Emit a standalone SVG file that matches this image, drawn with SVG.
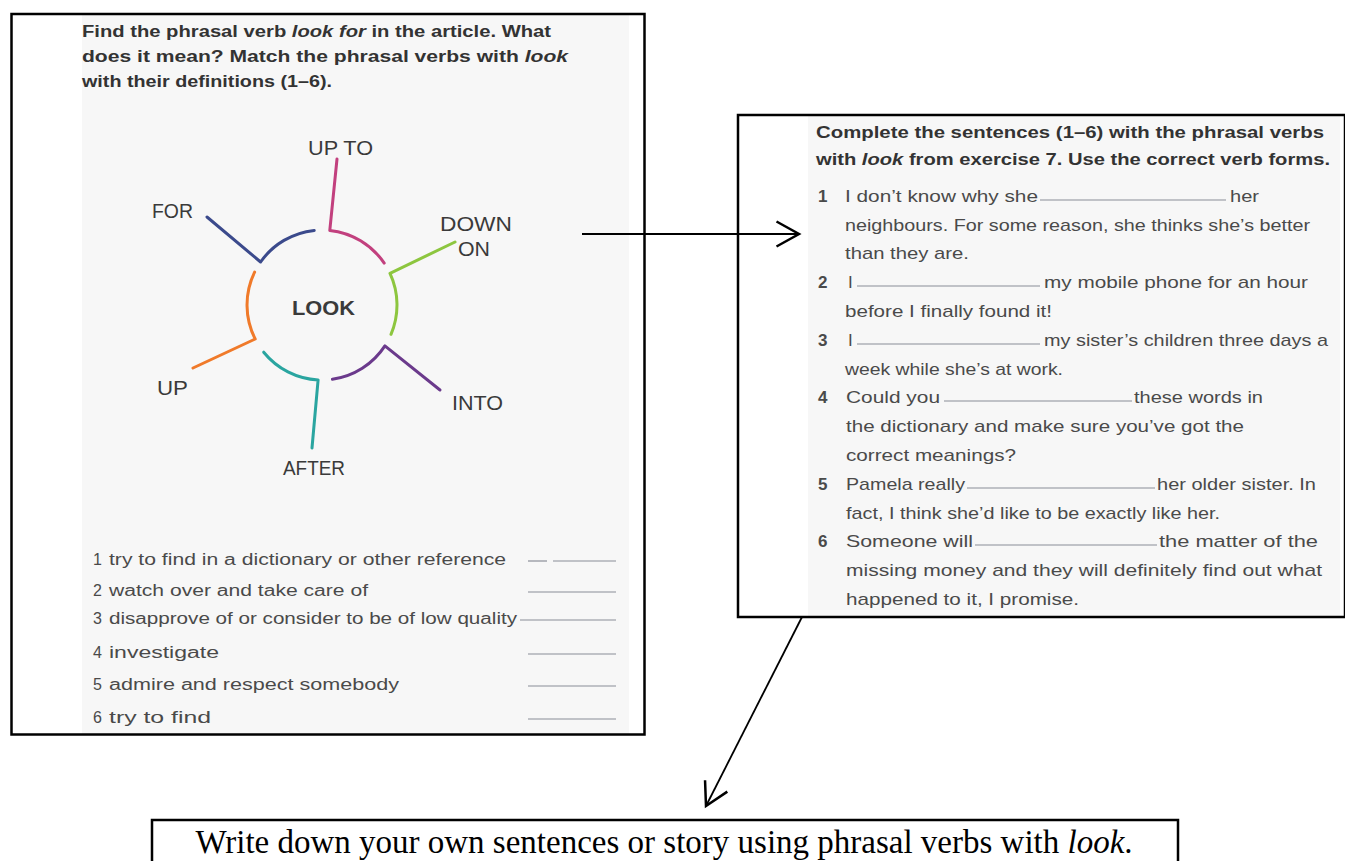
<svg xmlns="http://www.w3.org/2000/svg" width="1345" height="861" viewBox="0 0 1345 861">
<defs>
<marker id="open" markerUnits="userSpaceOnUse" markerWidth="30" markerHeight="30" viewBox="-20 -12 24 24" refX="0" refY="0" orient="auto">
<path d="M-18,-10 L0,0 L-18,10" fill="none" stroke="#000" stroke-width="2"/>
</marker>
<style>
.frame{fill:none;stroke:#000;stroke-width:2.5}
.scan{fill:#f7f7f7}
.h{font-family:"Liberation Sans",Arial,sans-serif;font-weight:bold;fill:#333}
.b{font-family:"Liberation Sans",Arial,sans-serif;fill:#4a4a4a}
.lab{font-family:"Liberation Sans",Arial,sans-serif;font-size:21px;fill:#3a3a3a}
.blank{stroke:#8a8e98;stroke-width:1.2}
.seg{fill:none;stroke-width:3;stroke-linecap:round;stroke-linejoin:round}
.conn{stroke:#000;stroke-width:1.8;fill:none}
</style>
</defs>
<rect width="1345" height="861" fill="#fff"/>

<g id="exercise-7">
<rect class="scan" x="82" y="14" width="547" height="720"/>
<rect class="frame" x="11.5" y="14" width="633" height="720.5"/>
<text class="h" font-size="16" x="82" y="37" textLength="469" lengthAdjust="spacingAndGlyphs">Find the phrasal verb <tspan font-style="italic">look for</tspan> in the article. What</text>
<text class="h" font-size="16" x="82" y="62" textLength="486" lengthAdjust="spacingAndGlyphs">does it mean? Match the phrasal verbs with <tspan font-style="italic">look</tspan></text>
<text class="h" font-size="16" x="82" y="87" textLength="250" lengthAdjust="spacingAndGlyphs">with their definitions (1–6).</text>

<g id="look-wheel">
<path class="seg" stroke="#c2407e" d="M337,159 L329.8,230.4 A75,75 0 0 1 384.2,263.1"/>
<path class="seg" stroke="#8dc63f" d="M455,242 L390,273.3 A75,75 0 0 1 391,334.3"/>
<path class="seg" stroke="#6b3a8c" d="M440,390 L384.9,345.9 A75,75 0 0 1 332.4,379.3"/>
<path class="seg" stroke="#2aa5a0" d="M312,448 L318.1,379.9 A75,75 0 0 1 263.7,352.2"/>
<path class="seg" stroke="#f07a2a" d="M193,368 L255.2,339 A75,75 0 0 1 254.6,272.1"/>
<path class="seg" stroke="#3b4a8c" d="M207,217 L260.6,262 A75,75 0 0 1 314.2,230.4"/>
<text class="lab" x="308" y="155" textLength="65" lengthAdjust="spacingAndGlyphs">UP TO</text>
<text class="lab" x="152" y="218" textLength="41" lengthAdjust="spacingAndGlyphs">FOR</text>
<text class="lab" x="440" y="231" textLength="72" lengthAdjust="spacingAndGlyphs">DOWN</text>
<text class="lab" x="458" y="256" textLength="32" lengthAdjust="spacingAndGlyphs">ON</text>
<text class="lab" x="292" y="315" font-weight="bold" fill="#222" textLength="63" lengthAdjust="spacingAndGlyphs">LOOK</text>
<text class="lab" x="157" y="395" textLength="31" lengthAdjust="spacingAndGlyphs">UP</text>
<text class="lab" x="452" y="410" textLength="51" lengthAdjust="spacingAndGlyphs">INTO</text>
<text class="lab" x="283" y="475" textLength="62" lengthAdjust="spacingAndGlyphs">AFTER</text>
</g>

<g id="definitions" font-size="16">
<text class="b" x="93" y="565">1</text><text class="b" x="109" y="565" textLength="397" lengthAdjust="spacingAndGlyphs">try to find in a dictionary or other reference</text>
<text class="b" x="93" y="596">2</text><text class="b" x="109" y="596" textLength="259" lengthAdjust="spacingAndGlyphs">watch over and take care of</text>
<text class="b" x="93" y="624">3</text><text class="b" x="109" y="624" textLength="408" lengthAdjust="spacingAndGlyphs">disapprove of or consider to be of low quality</text>
<text class="b" x="93" y="658">4</text><text class="b" x="109" y="658" textLength="110" lengthAdjust="spacingAndGlyphs">investigate</text>
<text class="b" x="93" y="690">5</text><text class="b" x="109" y="690" textLength="290" lengthAdjust="spacingAndGlyphs">admire and respect somebody</text>
<text class="b" x="93" y="723">6</text><text class="b" x="109" y="723" textLength="102" lengthAdjust="spacingAndGlyphs">try to find</text>
<line class="blank" x1="528" y1="561" x2="547" y2="561"/><line class="blank" x1="553" y1="561" x2="616" y2="561"/>
<line class="blank" x1="528" y1="592" x2="616" y2="592"/>
<line class="blank" x1="520" y1="620" x2="616" y2="620"/>
<line class="blank" x1="528" y1="654" x2="616" y2="654"/>
<line class="blank" x1="528" y1="686" x2="616" y2="686"/>
<line class="blank" x1="528" y1="719" x2="616" y2="719"/>
</g>
</g>

<g id="exercise-8">
<rect class="scan" x="808" y="115" width="532" height="501"/>
<rect class="frame" x="738" y="115" width="607" height="502"/>
<text class="h" font-size="17" x="816" y="138" textLength="508" lengthAdjust="spacingAndGlyphs">Complete the sentences (1–6) with the phrasal verbs</text>
<text class="h" font-size="17" x="816" y="165" textLength="514" lengthAdjust="spacingAndGlyphs">with <tspan font-style="italic">look</tspan> from exercise 7. Use the correct verb forms.</text>
<g font-size="17">
<text class="b" x="818" y="202" font-weight="bold" fill="#555">1</text>
<text class="b" x="845" y="202" textLength="193" lengthAdjust="spacingAndGlyphs">I don’t know why she</text>
<line class="blank" x1="1040" y1="200" x2="1226" y2="200"/>
<text class="b" x="1230" y="202" textLength="29" lengthAdjust="spacingAndGlyphs">her</text>
<text class="b" x="845" y="231" textLength="465" lengthAdjust="spacingAndGlyphs">neighbours. For some reason, she thinks she’s better</text>
<text class="b" x="845" y="259" textLength="124" lengthAdjust="spacingAndGlyphs">than they are.</text>
<text class="b" x="818" y="288" font-weight="bold" fill="#555">2</text>
<text class="b" x="848" y="288">I</text>
<line class="blank" x1="857" y1="286" x2="1040" y2="286"/>
<text class="b" x="1044" y="288" textLength="264" lengthAdjust="spacingAndGlyphs">my mobile phone for an hour</text>
<text class="b" x="845" y="317" textLength="207" lengthAdjust="spacingAndGlyphs">before I finally found it!</text>
<text class="b" x="818" y="346" font-weight="bold" fill="#555">3</text>
<text class="b" x="848" y="346">I</text>
<line class="blank" x1="857" y1="344" x2="1040" y2="344"/>
<text class="b" x="1044" y="346" textLength="284" lengthAdjust="spacingAndGlyphs">my sister’s children three days a</text>
<text class="b" x="845" y="375" textLength="218" lengthAdjust="spacingAndGlyphs">week while she’s at work.</text>
<text class="b" x="818" y="403" font-weight="bold" fill="#555">4</text>
<text class="b" x="846" y="403" textLength="94" lengthAdjust="spacingAndGlyphs">Could you</text>
<line class="blank" x1="944" y1="401" x2="1132" y2="401"/>
<text class="b" x="1134" y="403" textLength="129" lengthAdjust="spacingAndGlyphs">these words in</text>
<text class="b" x="846" y="432" textLength="398" lengthAdjust="spacingAndGlyphs">the dictionary and make sure you’ve got the</text>
<text class="b" x="846" y="461" textLength="170" lengthAdjust="spacingAndGlyphs">correct meanings?</text>
<text class="b" x="818" y="490" font-weight="bold" fill="#555">5</text>
<text class="b" x="846" y="490" textLength="119" lengthAdjust="spacingAndGlyphs">Pamela really</text>
<line class="blank" x1="967" y1="488" x2="1155" y2="488"/>
<text class="b" x="1157" y="490" textLength="159" lengthAdjust="spacingAndGlyphs">her older sister. In</text>
<text class="b" x="846" y="519" textLength="374" lengthAdjust="spacingAndGlyphs">fact, I think she’d like to be exactly like her.</text>
<text class="b" x="818" y="547" font-weight="bold" fill="#555">6</text>
<text class="b" x="846" y="547" textLength="127" lengthAdjust="spacingAndGlyphs">Someone will</text>
<line class="blank" x1="975" y1="545" x2="1157" y2="545"/>
<text class="b" x="1159" y="547" textLength="159" lengthAdjust="spacingAndGlyphs">the matter of the</text>
<text class="b" x="846" y="576" textLength="476" lengthAdjust="spacingAndGlyphs">missing money and they will definitely find out what</text>
<text class="b" x="846" y="605" textLength="233" lengthAdjust="spacingAndGlyphs">happened to it, I promise.</text>
</g>
</g>

<g id="task">
<rect class="frame" x="152" y="820" width="1026" height="60"/>
<text x="664" y="853" text-anchor="middle" font-family="Liberation Serif,'Times New Roman',serif" font-size="33" fill="#000">Write down your own sentences or story using phrasal verbs with <tspan font-style="italic">look</tspan>.</text>
</g>

<g id="connectors">
<line class="conn" x1="582" y1="234" x2="799" y2="234" marker-end="url(#open)"/>
<line class="conn" x1="802" y1="617" x2="706" y2="806" marker-end="url(#open)"/>
</g>
</svg>
